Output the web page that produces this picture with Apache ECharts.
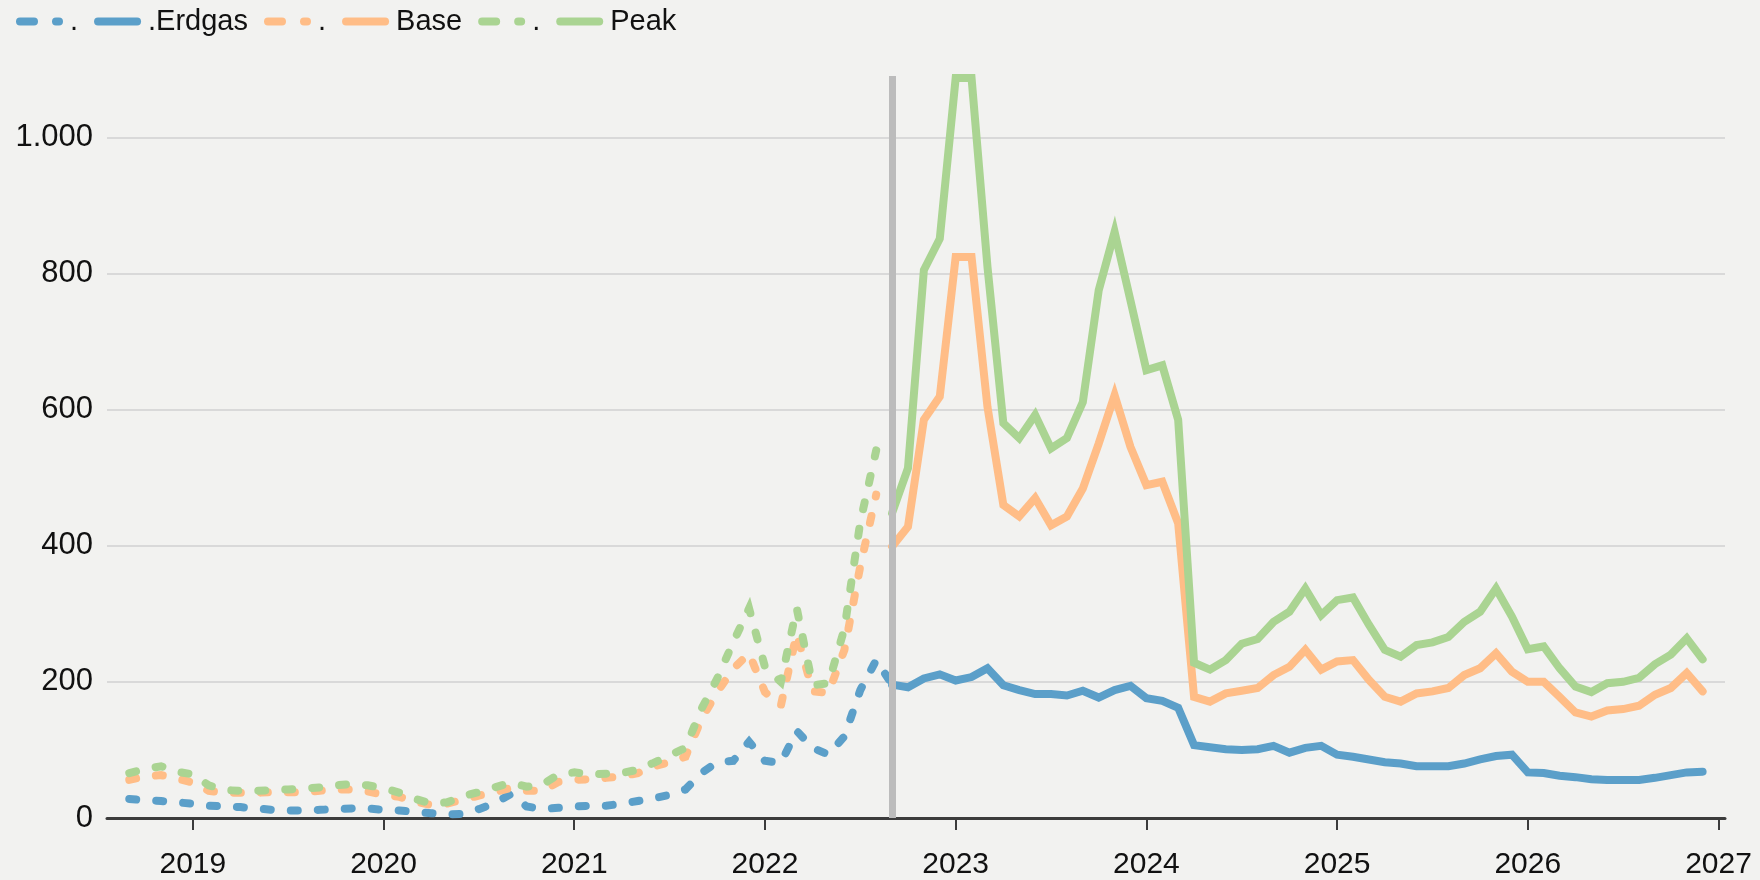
<!DOCTYPE html>
<html><head><meta charset="utf-8">
<script src="https://cdn.jsdelivr.net/npm/echarts@6/dist/echarts.min.js"></script>
<style>html,body{margin:0;padding:0;background:#f2f2f0}#c{width:1760px;height:880px}</style>
</head><body><div id="c"></div>
<script>
// ---- data ----
const histStart = [2018, 9];   // first month of the dashed (historical) series
const fcStart = [2022, 9];     // first month of the solid (forecast) series
const splitMonth = [2022, 9];  // vertical separator
const xTickYears = [2019, 2020, 2021, 2022, 2023, 2024, 2025, 2026, 2027];
const yTicks = [0, 200, 400, 600, 800, 1000];

const gasHist = [28, 26, 25, 23, 21, 18, 17, 16, 14, 12, 11, 11, 12, 13, 14, 14, 12, 11, 9, 7, 5, 6, 13, 22, 35, 17, 13, 15,
  17, 18, 18, 21, 25, 29, 34, 42, 66, 82, 84, 112, 84, 81, 128, 103, 93, 120, 188, 232, 196];
const baseHist = [56, 61, 63, 58, 52, 40, 37, 37, 37, 38, 38, 38, 40, 42, 42, 39, 34, 31, 24, 19, 21, 27, 33, 38, 44, 40, 40, 53,
  56, 57, 59, 61, 66, 76, 82, 90, 145, 185, 219, 242, 185, 165, 271, 186, 184, 247, 370, 475];
const peakHist = [66, 72, 76, 68, 64, 48, 41, 40, 40, 41, 42, 43, 45, 48, 50, 48, 44, 37, 28, 21, 23, 32, 38, 45, 52, 46, 49, 64,
  67, 64, 65, 66, 71, 81, 92, 103, 160, 205, 258, 308, 222, 200, 308, 195, 198, 278, 435, 540];

const gasFc = [196, 192, 205, 211, 202, 207, 220, 195, 188, 182, 182, 180, 187, 177, 188, 194, 176, 172, 162, 107, 104, 101, 100, 101,
  106, 96, 103, 106, 93, 90, 86, 82, 80, 76, 76, 76, 80, 86, 91, 93, 67, 66, 62, 60, 57, 56, 56, 56, 59, 63, 67, 68];
const baseFc = [399, 428, 585, 619, 824, 824, 604, 460, 443, 470, 430, 443, 484, 550, 621, 545, 489, 494, 433, 178, 171, 183, 187, 191,
  210, 222, 247, 218, 230, 232, 203, 178, 171, 183, 186, 191, 210, 220, 242, 215, 200, 200, 178, 155, 149, 158, 160, 165, 181, 191, 213, 186];
const peakFc = [448, 514, 805, 851, 1087, 1087, 810, 580, 558, 592, 543, 558, 611, 775, 861, 760, 658, 665, 585, 228, 218, 232, 256, 263,
  288, 303, 337, 298, 320, 324, 284, 247, 237, 254, 258, 266, 288, 303, 337, 296, 248, 252, 220, 193, 185, 198, 200, 206, 226, 240, 264, 233];

const seriesNames = ['gasHist', 'gas', 'baseHist', 'base', 'peakHist', 'peak'];
const legendLabels = { gasHist: '.', gas: '.Erdgas', baseHist: '.', base: 'Base', peakHist: '.', peak: 'Peak' };

// ---- helpers ----
function monthX(start, i) { const m = start[1] - 1 + i; return start[0] + m / 12; }
function pairs(start, vals) { return vals.map((v, i) => [monthX(start, i), v]); }

const COL = { gas: '#5b9fc9', base: '#ffbd87', peak: '#aad492' };
const FONT = 'Liberation Sans, Arial, Helvetica, sans-serif';
const LW = 8;
const DASH = [7, 20];

function mk(name, color, data, dashed) {
  return {
    name, type: 'line', data, symbol: 'none', showSymbol: false, smooth: false,
    lineStyle: { color, width: LW, type: dashed ? DASH : 'solid', cap: 'round', join: 'miter' },
    itemStyle: { color },
    emphasis: { disabled: true }, silent: true, animation: false
  };
}

const series = [
  mk('gasHist', COL.gas, pairs(histStart, gasHist), true),
  mk('gas', COL.gas, pairs(fcStart, gasFc), false),
  mk('baseHist', COL.base, pairs(histStart, baseHist), true),
  mk('base', COL.base, pairs(fcStart, baseFc), false),
  mk('peakHist', COL.peak, pairs(histStart, peakHist), true),
  mk('peak', COL.peak, pairs(fcStart, peakFc), false)
];
series[5].markLine = {
  silent: true, symbol: ['none', 'none'], label: { show: false }, animation: false,
  lineStyle: { color: '#bcbcbc', width: 7, type: 'solid', opacity: 1 },
  data: [{ xAxis: monthX(splitMonth, 0) }]
};

const legendData = seriesNames.map(n => {
  const dashed = n.endsWith('Hist');
  return { name: n, lineStyle: { type: dashed ? [14, 22] : 'solid', width: 8, cap: 'round' } };
});

const chart = echarts.init(document.getElementById('c'), null, { renderer: 'canvas' });
chart.setOption({
  backgroundColor: '#f2f2f0',
  animation: false,
  textStyle: { fontFamily: FONT },
  legend: {
    left: 16, top: 7, padding: 0, itemWidth: 39, itemHeight: 14, itemGap: 16,
    data: legendData,
    lineStyle: { width: 8, cap: 'round' },
    itemStyle: { color: 'rgba(0,0,0,0)', borderWidth: 0, opacity: 0 },
    formatter: n => legendLabels[n],
    textStyle: { fontSize: 29, color: '#111', fontFamily: FONT, padding: [0, 0, 0, 6] },
    selectedMode: false
  },
  grid: { left: 107, right: 35, top: 76, bottom: 62, containLabel: false },
  xAxis: {
    type: 'value', min: 2018.55, max: 2027.034,
    axisLine: { show: true, lineStyle: { color: '#3c3c3c', width: 3 } },
    axisTick: { show: true, customValues: xTickYears, length: 12, lineStyle: { color: '#3c3c3c', width: 2 } },
    axisLabel: { customValues: xTickYears, formatter: v => String(Math.round(v)), fontSize: 30, color: '#111', margin: 32, fontFamily: FONT },
    splitLine: { show: false }
  },
  yAxis: {
    type: 'value', min: 0, max: 1090, interval: 200,
    axisLine: { show: false }, axisTick: { show: false },
    axisLabel: {
      fontSize: 31, color: '#111', margin: 14, fontFamily: FONT, showMaxLabel: false,
      formatter: v => yTicks.includes(v) ? (v >= 1000 ? Math.floor(v / 1000) + '.' + String(v % 1000).padStart(3, '0') : String(v)) : ''
    },
    splitLine: { show: true, showMinLine: false, showMaxLine: false, lineStyle: { color: '#d9d9d9', width: 2 } }
  },
  series
});
</script></body></html>
